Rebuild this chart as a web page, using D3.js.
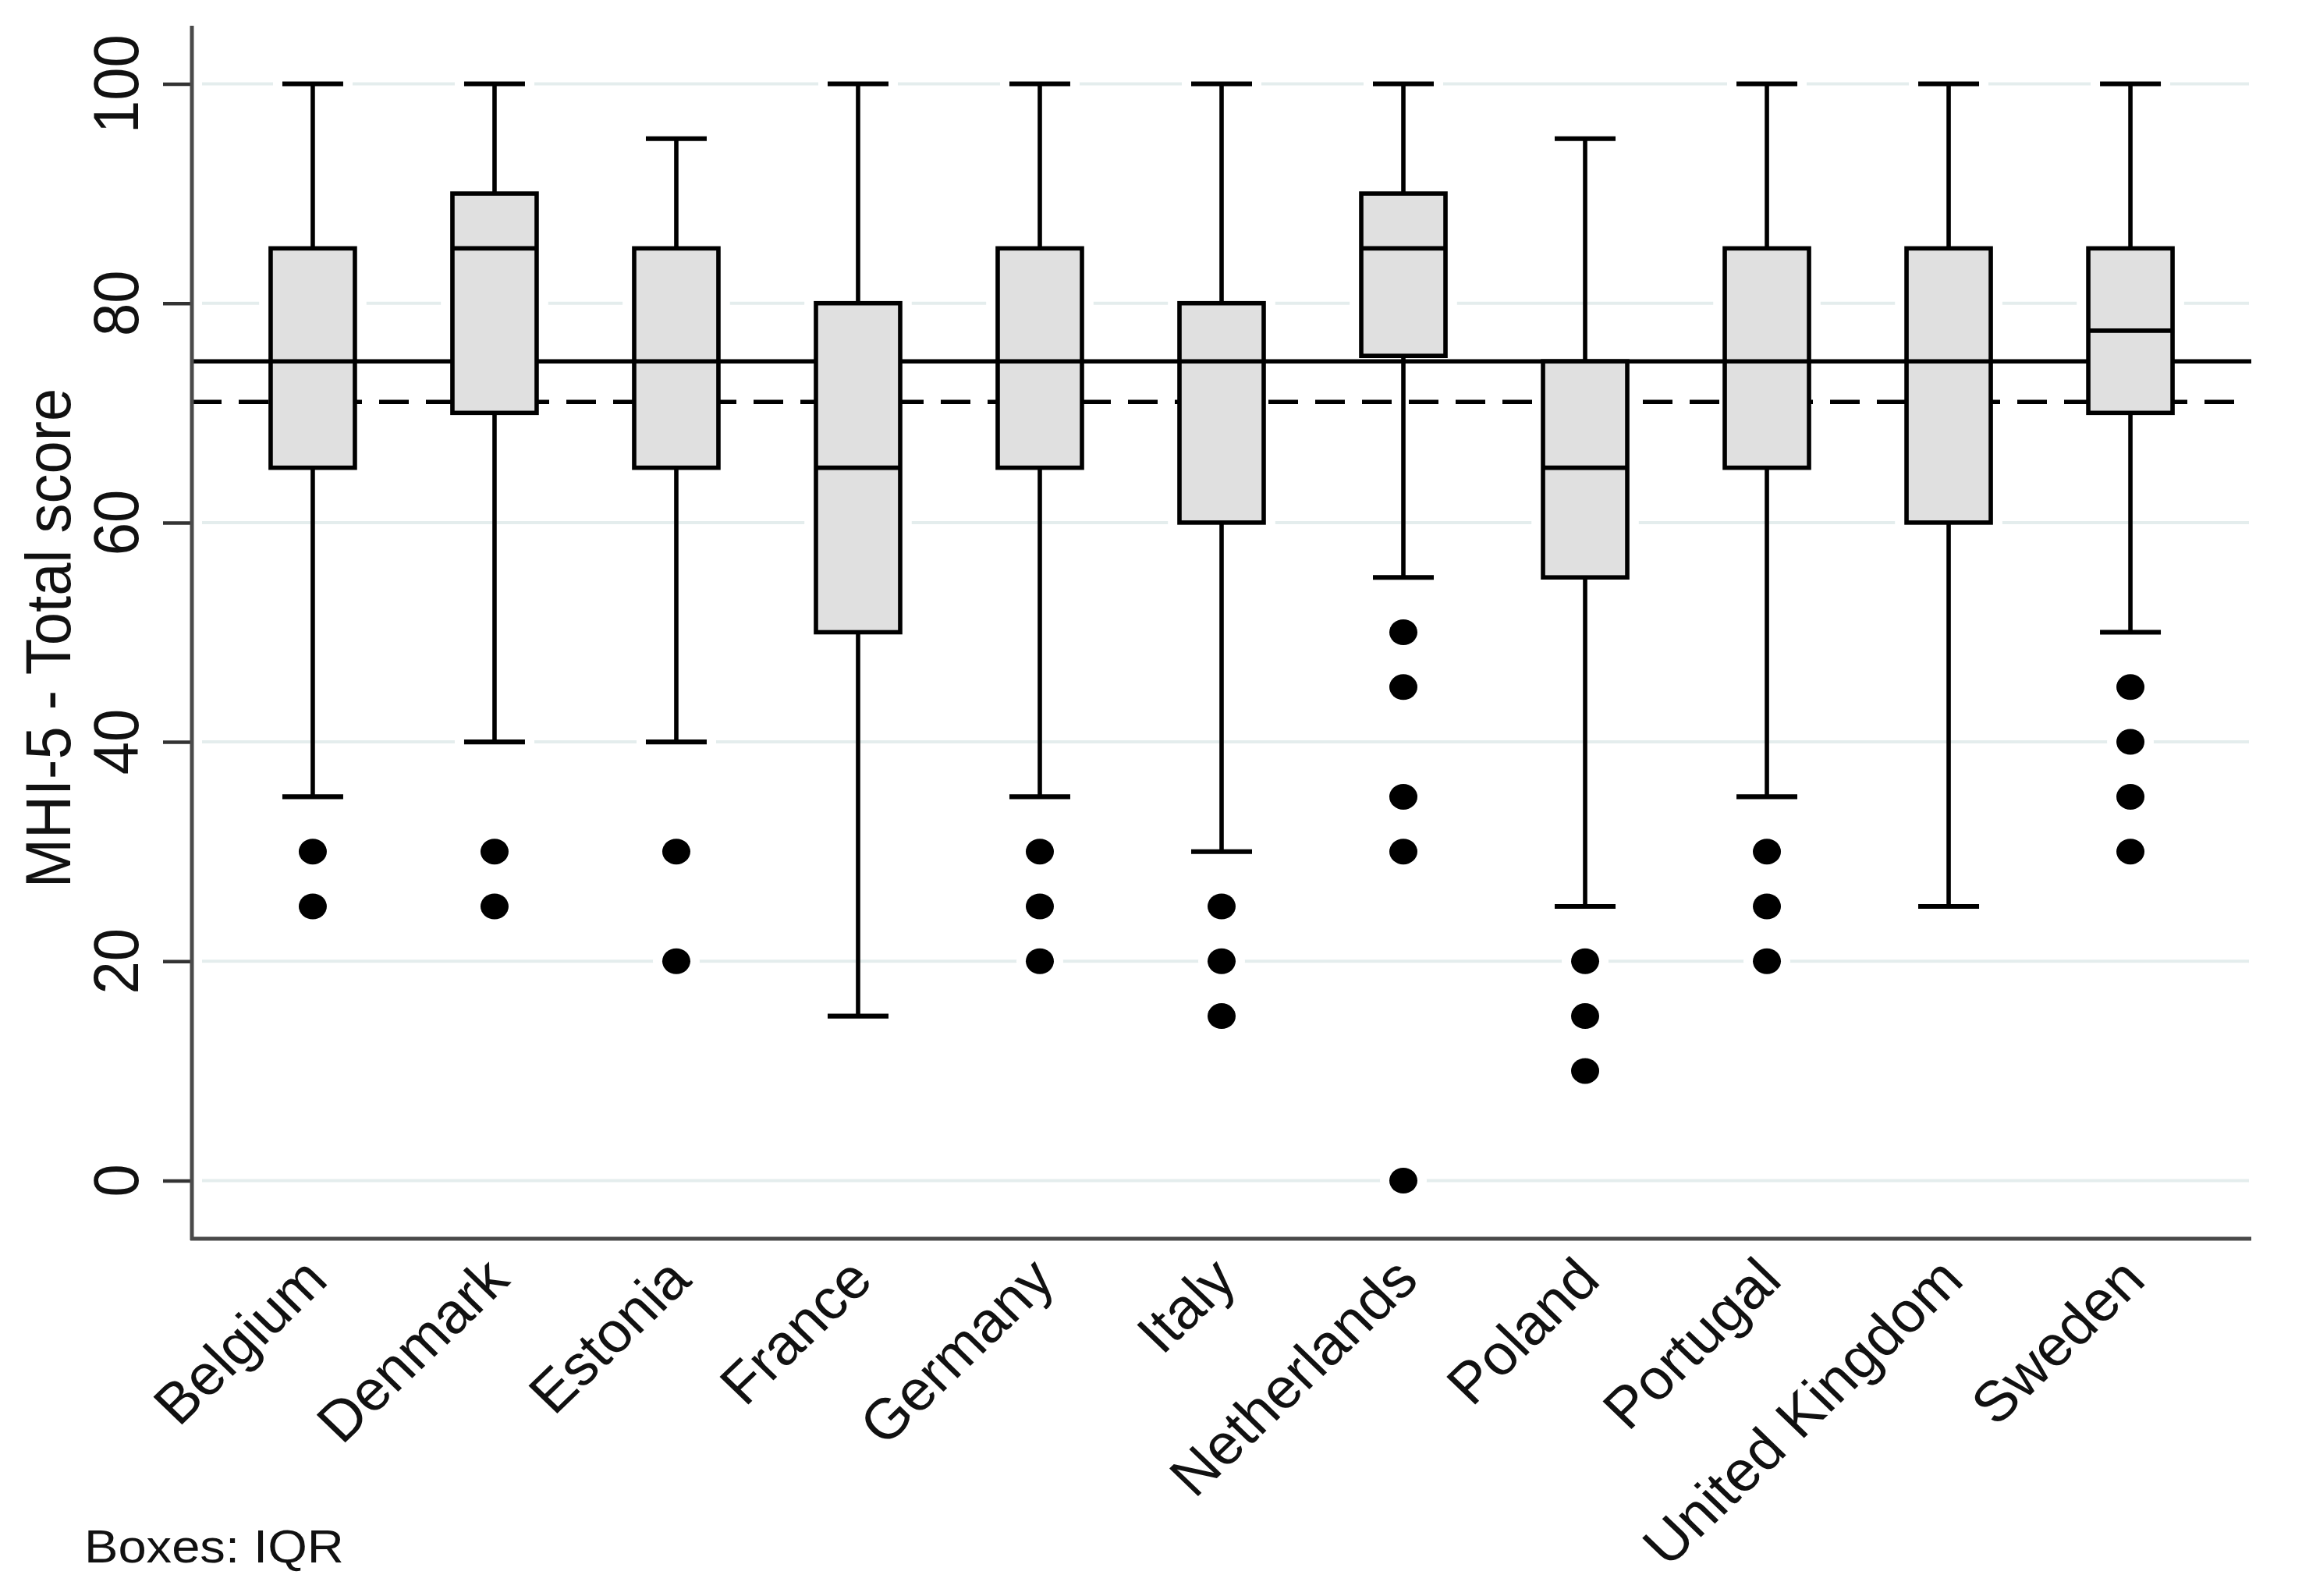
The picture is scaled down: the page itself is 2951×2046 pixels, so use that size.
<!DOCTYPE html>
<html>
<head>
<meta charset="utf-8">
<script src="https://cdn.jsdelivr.net/npm/d3@7"></script>
<style>
  html, body { margin: 0; padding: 0; background: #fff; }
  svg { display: block; }
</style>
</head>
<body>
<svg id="chart" width="2951" height="2046"></svg>
<script>
// ---- Data ----
const countries = ["Belgium","Denmark","Estonia","France","Germany","Italy","Netherlands","Poland","Portugal","United Kingdom","Sweden"];
const whiskerHigh = [100,100,95,100,100,100,100,95,100,100,100];
const q3          = [85, 90, 85, 80, 85, 80, 90, 74.7, 85, 85, 85];
const median      = [74.7, 85, 74.7, 65, 74.7, 74.7, 85, 65, 74.7, 74.7, 77.5];
const q1          = [65, 70, 65, 50, 65, 60, 75.2, 55, 65, 60, 70];
const whiskerLow  = [35, 40, 40, 15, 35, 30, 55, 25, 35, 25, 50];
const outliers    = [[30,25],[30,25],[30,20],[],[30,25,20],[25,20,15],[50,45,35,30,0],[20,15,10],[30,25,20],[],[45,40,35,30]];
const yTicks      = [0,20,40,60,80,100];
const refSolid    = 74.7;   // solid reference line
const refDashed   = 71;     // dashed reference line
const yTitle      = "MHI-5 - Total score";
const note        = "Boxes: IQR";

(function () {
// ---- Layout ----
const svg = d3.select("#chart");
const pLeft = 246, pRight = 2886, pTop = 33, pBottom = 1588;
const SX = 1.085; // horizontal stretch of the original rendering

const x = d3.scalePoint().domain(countries).range([pLeft, pRight]).padding(0.665);
const y = d3.scaleLinear().domain([-5.3, 105.3]).range([pBottom, pTop]);

const boxW = 108, capW = 78, lw = 5.6, halo = 12;
const rows = countries.map((c,i) => ({c, hi: whiskerHigh[i], q3: q3[i], med: median[i], q1: q1[i], lo: whiskerLow[i], out: outliers[i]}));

// gridlines
svg.append("g").selectAll("line").data(yTicks).join("line")
  .attr("x1", pLeft + 13).attr("x2", pRight - 3)
  .attr("y1", d => y(d)).attr("y2", d => y(d))
  .attr("stroke", "#e4eded").attr("stroke-width", 4);

// halos (white) around boxes, caps, dots
const hg = svg.append("g").attr("fill", "#fff").attr("stroke", "#fff");
rows.forEach(r => {
  const cx = x(r.c);
  hg.append("rect").attr("x", cx - boxW/2).attr("y", y(r.q3))
    .attr("width", boxW).attr("height", y(r.q1) - y(r.q3))
    .attr("stroke-width", lw + 2*halo);
  [r.hi, r.lo].forEach(v => hg.append("line")
    .attr("x1", cx - capW/2 - halo).attr("x2", cx + capW/2 + halo)
    .attr("y1", y(v)).attr("y2", y(v)).attr("stroke-width", lw + 2*halo));
  r.out.forEach(v => hg.append("ellipse").attr("cx", cx).attr("cy", y(v))
    .attr("rx", 18 + halo).attr("ry", 16.5 + halo).attr("stroke", "none"));
});

// reference lines
svg.append("line").attr("x1", pLeft).attr("x2", pRight)
  .attr("y1", y(refSolid)).attr("y2", y(refSolid))
  .attr("stroke", "#000").attr("stroke-width", lw);
svg.append("line").attr("x1", pLeft).attr("x2", pRight)
  .attr("y1", y(refDashed)).attr("y2", y(refDashed))
  .attr("stroke", "#000").attr("stroke-width", lw).attr("stroke-dasharray", "38,22");

// boxes
const bg = svg.append("g");
rows.forEach(r => {
  const cx = x(r.c);
  bg.append("line").attr("x1", cx).attr("x2", cx).attr("y1", y(r.hi)).attr("y2", y(r.q3))
    .attr("stroke", "#000").attr("stroke-width", lw);
  bg.append("line").attr("x1", cx).attr("x2", cx).attr("y1", y(r.q1)).attr("y2", y(r.lo))
    .attr("stroke", "#000").attr("stroke-width", lw);
  [r.hi, r.lo].forEach(v => bg.append("line")
    .attr("x1", cx - capW/2).attr("x2", cx + capW/2).attr("y1", y(v)).attr("y2", y(v))
    .attr("stroke", "#000").attr("stroke-width", lw + 0.5));
  bg.append("rect").attr("x", cx - boxW/2).attr("y", y(r.q3))
    .attr("width", boxW).attr("height", y(r.q1) - y(r.q3))
    .attr("fill", "#e0e0e0").attr("stroke", "#000").attr("stroke-width", lw);
  bg.append("line").attr("x1", cx - boxW/2 - 2).attr("x2", cx + boxW/2 + 2)
    .attr("y1", y(r.med)).attr("y2", y(r.med))
    .attr("stroke", "#000").attr("stroke-width", lw);
  r.out.forEach(v => bg.append("ellipse").attr("cx", cx).attr("cy", y(v))
    .attr("rx", 18).attr("ry", 16.5).attr("fill", "#000"));
});

// axes
const yAxis = d3.axisLeft(y).tickValues(yTicks).tickSize(37).tickFormat(d3.format("d"));
const ga = svg.append("g").attr("transform", `translate(${pLeft},0)`).call(yAxis);
ga.select(".domain").remove();
ga.selectAll(".tick line").attr("stroke", "#333").attr("stroke-width", 4.5);
ga.selectAll(".tick text").remove();

svg.append("line").attr("x1", pLeft).attr("x2", pLeft).attr("y1", pTop).attr("y2", pBottom + 2)
  .attr("stroke", "#4a4a4a").attr("stroke-width", 5);
svg.append("line").attr("x1", pLeft - 2).attr("x2", pRight).attr("y1", pBottom).attr("y2", pBottom)
  .attr("stroke", "#4a4a4a").attr("stroke-width", 5);

const font = "'Liberation Sans', Arial, Helvetica, sans-serif";

// y tick labels (rotated)
svg.append("g").selectAll("text").data(yTicks).join("text")
  .attr("transform", d => `translate(177,${y(d)}) scale(${SX},1) rotate(-90)`)
  .attr("text-anchor", "middle")
  .attr("font-family", font).attr("font-size", 76).attr("fill", "#111")
  .text(d => d);

// y title
svg.append("text")
  .attr("transform", `translate(90,818) scale(${SX},1) rotate(-90)`)
  .attr("text-anchor", "middle")
  .attr("font-family", font).attr("font-size", 76).attr("fill", "#111")
  .text(yTitle);

// category labels
svg.append("g").selectAll("text").data(countries).join("text")
  .attr("transform", d => `translate(${x(d) + 22},1644) scale(1.04,1) rotate(-45)`)
  .attr("text-anchor", "end")
  .attr("font-family", font).attr("font-size", 73).attr("fill", "#111")
  .text(d => d);

// note
svg.append("text")
  .attr("transform", `translate(108,2003) scale(${SX},1)`)
  .attr("font-family", font).attr("font-size", 60).attr("fill", "#111")
  .text(note);
})();
</script>
</body>
</html>
